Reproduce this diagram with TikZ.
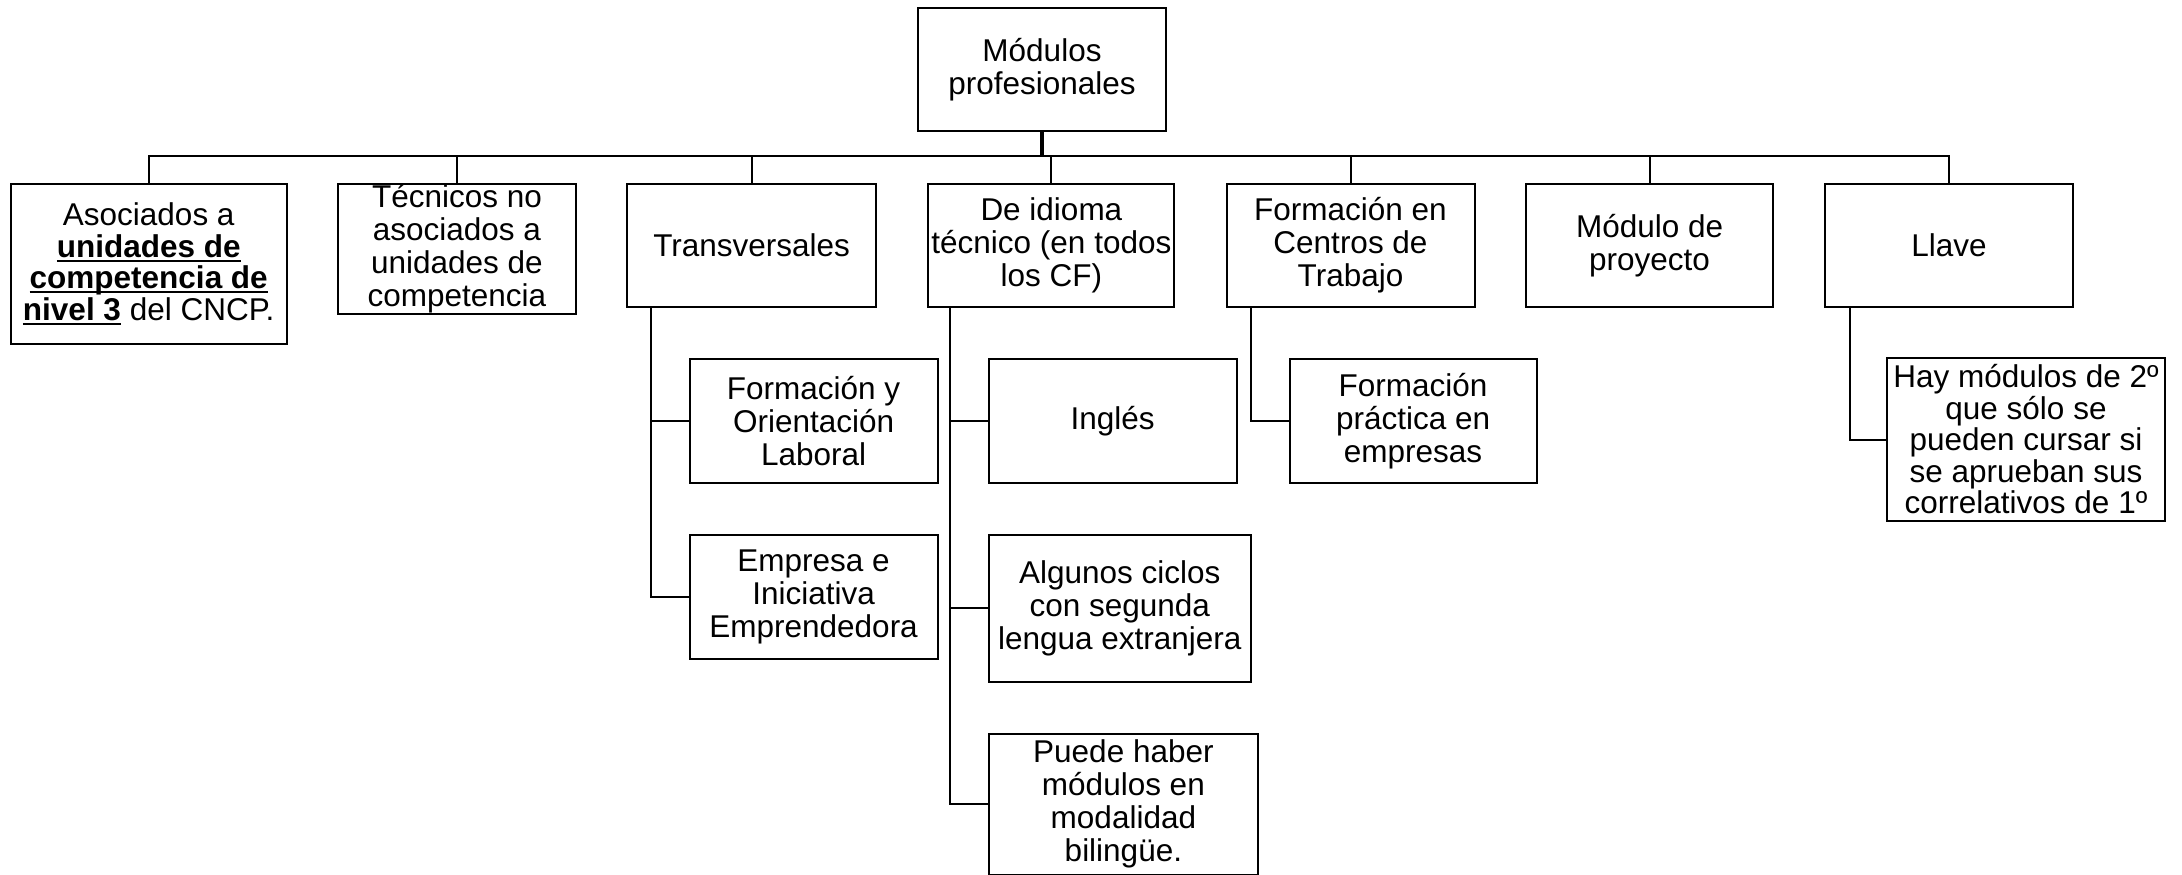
\documentclass[tikz,border=0pt]{standalone}
\usepackage{fontspec}
\setmainfont{Liberation Sans}
\newsavebox\myulbox
\newcommand{\myul}[1]{\sbox\myulbox{#1}\rlap{\rule[-0.14em]{\wd\myulbox}{0.07em}}\usebox\myulbox}
\begin{document}
\begin{tikzpicture}[x=1pt,y=-1pt,
  box/.style={draw,line width=2pt,inner sep=0pt,anchor=north west,align=center,
    font=\fontsize{31.5}{33}\selectfont},
  tight/.style={font=\fontsize{31.5}{31.5}\selectfont},
  conn/.style={line width=2pt,line cap=rect},
  stem/.style={line width=4pt}]
\useasboundingbox (0,0) rectangle (2182,875);
% top
\node[box,minimum width=248pt,minimum height=123pt] (top) at (917,7) {Módulos\\profesionales};
% first row
\node[box,tight,minimum width=275.5pt,minimum height=160.6pt] (b1) at (10,182.7)
  {Asociados a\\\myul{\textbf{unidades de}}\\\myul{\textbf{competencia de}}\\\myul{\textbf{nivel 3}} del CNCP.};
\node[box,minimum width=238.5pt,minimum height=130.6pt] (b2) at (336.7,182.7)
  {Técnicos no\\asociados a\\unidades de\\competencia};
\node[box,minimum width=248.4pt,minimum height=123.3pt] (b3) at (626.4,182.7) {Transversales};
\node[box,minimum width=246pt,minimum height=123.3pt] (b4) at (927.4,182.7)
  {De idioma\\técnico (en todos\\los CF)};
\node[box,minimum width=248pt,minimum height=123.3pt] (b5) at (1225.5,182.7)
  {Formación en\\Centros de\\Trabajo};
\node[box,minimum width=247.4pt,minimum height=123.3pt] (b6) at (1524.9,182.7)
  {Módulo de\\proyecto};
\node[box,minimum width=248.8pt,minimum height=123.3pt] (b7) at (1823.5,182.7) {Llave};
% children
\node[box,minimum width=248.2pt,minimum height=124.4pt] (fol) at (688.5,357.9)
  {Formación y\\Orientación\\Laboral};
\node[box,minimum width=248.2pt,minimum height=123.9pt] (eie) at (688.5,533.6)
  {Empresa e\\Iniciativa\\Emprendedora};
\node[box,minimum width=248.2pt,minimum height=124.4pt] (ing) at (987.6,357.9) {Inglés};
\node[box,minimum width=262.5pt,minimum height=147.4pt] (alg) at (987.6,533.6)
  {Algunos ciclos\\con segunda\\lengua extranjera};
\node[box,minimum width=269.6pt,minimum height=141pt] (pue) at (987.6,732.7)
  {Puede haber\\módulos en\\modalidad\\bilingüe.};
\node[box,minimum width=247pt,minimum height=124pt] (pra) at (1288.6,357.7)
  {Formación\\práctica en\\empresas};
\node[box,tight,minimum width=278pt,minimum height=163pt] (hay) at (1886,357)
  {Hay módulos de 2º\\que sólo se\\pueden cursar si\\se aprueban sus\\correlativos de 1º};
% connectors
\coordinate (busL) at (b1.north |- 0,156);
\coordinate (busR) at (b7.north |- 0,156);
\draw[stem] (top.south) -- (top.south |- busL);
\draw[conn] (busL) -- (busR);
\foreach \n in {b1,b2,b3,b4,b5,b6,b7}
  \draw[conn] (\n.north) -- (\n.north |- busL);
\draw[conn] ([xshift=25pt]b3.south west) |- (fol.west);
\draw[conn] ([xshift=25pt]b3.south west) |- (eie.west);
\draw[conn] ([xshift=23pt]b4.south west) |- (ing.west);
\draw[conn] ([xshift=23pt]b4.south west) |- (alg.west);
\draw[conn] ([xshift=23pt]b4.south west) |- (pue.west);
\draw[conn] ([xshift=25pt]b5.south west) |- (pra.west);
\draw[conn] ([xshift=26pt]b7.south west) |- (hay.west);
\end{tikzpicture}
\end{document}
